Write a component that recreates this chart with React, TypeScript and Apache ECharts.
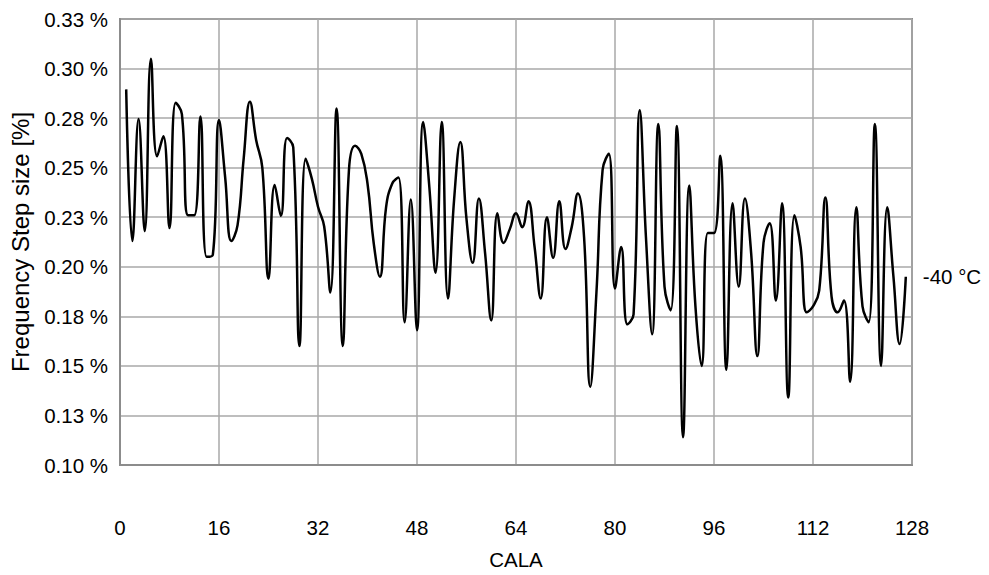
import React, { useEffect, useRef } from "react";
import * as echarts from "echarts";

// CALA channel index (x) and frequency step size in % (y)
const calaStart = 1;
const stepSize: number[] = [
  0.2895, 0.213, 0.2745, 0.218, 0.305, 0.2557, 0.2658, 0.2195, 0.2828, 0.277,
  0.226, 0.226, 0.2758, 0.205, 0.206, 0.274, 0.245, 0.213, 0.221, 0.255,
  0.2833, 0.264, 0.25, 0.194, 0.2412, 0.2257, 0.265, 0.2603, 0.16, 0.2545,
  0.2445, 0.2303, 0.2203, 0.187, 0.2798, 0.16, 0.2487, 0.261, 0.257, 0.242,
  0.212, 0.195, 0.23, 0.242, 0.245, 0.172, 0.234, 0.168, 0.273, 0.24,
  0.197, 0.273, 0.184, 0.234, 0.263, 0.224, 0.202, 0.2345, 0.207, 0.173,
  0.227, 0.212, 0.219, 0.227, 0.22, 0.233, 0.21, 0.184, 0.225, 0.2045,
  0.233, 0.209, 0.22, 0.237, 0.215, 0.1395, 0.187, 0.249, 0.257, 0.189,
  0.21, 0.171, 0.176, 0.279, 0.215, 0.166, 0.272, 0.19, 0.178, 0.271,
  0.114, 0.241, 0.18, 0.15, 0.217, 0.217, 0.256, 0.148, 0.232, 0.19,
  0.2345, 0.207, 0.155, 0.212, 0.222, 0.183, 0.232, 0.134, 0.226, 0.21,
  0.177, 0.18, 0.188, 0.235, 0.185, 0.177, 0.183, 0.142, 0.23, 0.18,
  0.172, 0.272, 0.15, 0.23, 0.195, 0.161, 0.195,
];
const seriesName = "-40 °C";
const xTitle = "CALA";
const yTitle = "Frequency Step size [%]";
const xMin = 0;
const xMax = 128;
const xStep = 16;
const yMin = 0.1;
const yMax = 0.325;
const yStep = 0.025;

const FONT = "'Liberation Sans', Arial, sans-serif";

export default function App() {
  const ref = useRef<HTMLDivElement>(null);
  useEffect(() => {
    if (!ref.current) return;
    const chart = echarts.init(ref.current, undefined, { renderer: "svg" });
    const data = stepSize.map((v, i) => [calaStart + i, v]);
    chart.setOption({
      animation: false,
      backgroundColor: "#ffffff",
      grid: {
        left: 120,
        right: 77,
        top: 19,
        bottom: 108,
        show: true,
        borderColor: "#8c8c8c",
        borderWidth: 2,
        backgroundColor: "transparent",
      },
      xAxis: {
        type: "value",
        min: xMin,
        max: xMax,
        interval: xStep,
        axisLine: { show: true, lineStyle: { color: "#8c8c8c", width: 2 } },
        axisTick: { show: false },
        splitLine: { show: true, lineStyle: { color: "#a9a9a9", width: 1.5 } },
        axisLabel: {
          margin: 52,
          fontSize: 20.5,
          color: "#000",
          fontFamily: FONT,
        },
        name: xTitle,
        nameLocation: "middle",
        nameGap: 84,
        nameTextStyle: { fontSize: 20.5, color: "#000", fontFamily: FONT },
      },
      yAxis: {
        type: "value",
        min: yMin,
        max: yMax,
        interval: yStep,
        axisLine: { show: true, lineStyle: { color: "#8c8c8c", width: 2 } },
        axisTick: { show: false },
        splitLine: { show: true, lineStyle: { color: "#a9a9a9", width: 1.5 } },
        axisLabel: {
          margin: 12,
          fontSize: 20.5,
          color: "#000",
          fontFamily: FONT,
          formatter: (v: number) => {
            const r = Math.round(v * 1000) / 1000;
            return (Math.round(r * 100 + 1e-6) / 100).toFixed(2) + " %";
          },
        },
        name: yTitle,
        nameLocation: "middle",
        nameRotate: 90,
        nameGap: 88,
        nameTextStyle: { fontSize: 24, color: "#000", fontFamily: FONT },
      },
      series: [
        {
          name: seriesName,
          type: "line",
          data,
          smooth: 0.45,
          symbol: "none",
          lineStyle: { color: "#000", width: 2.5 },
          endLabel: {
            show: true,
            formatter: seriesName,
            distance: 17,
            fontSize: 20.5,
            color: "#000",
            fontFamily: FONT,
          },
        },
      ],
    });
    return () => chart.dispose();
  }, []);
  return (
    <div
      ref={ref}
      style={{ position: "fixed", left: 0, top: 0, width: 989, height: 575 }}
    />
  );
}
